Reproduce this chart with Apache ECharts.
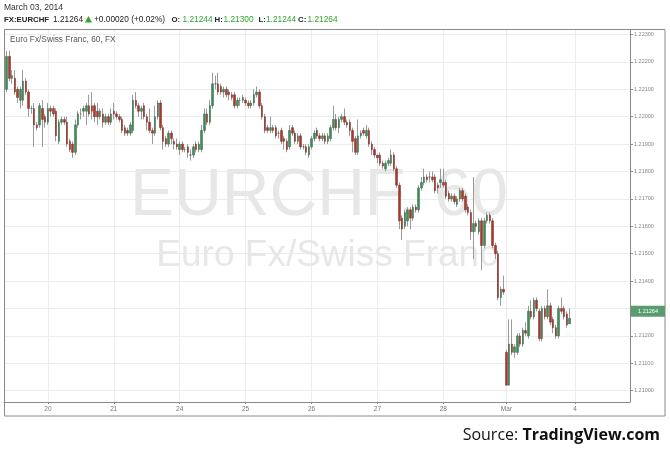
<!DOCTYPE html>
<html>
<head>
<meta charset="utf-8">
<script src="https://cdn.jsdelivr.net/npm/echarts@6/dist/echarts.min.js"></script>
<style>
html,body{margin:0;padding:0;background:#fff;}
#c{width:670px;height:454px;}
</style>
</head>
<body>
<div id="c"></div>
<script>
// Hourly candles [open, close, low, high]
const feb19 = [
[1.2210,1.2222,1.2209,1.2224],[1.2222,1.2214,1.2213,1.2224],[1.2214,1.2215,1.2212,1.2217],
[1.2214,1.2209,1.2208,1.2217],[1.2210,1.2207,1.2205,1.2211],[1.2206,1.2210,1.2203,1.2211],
[1.2206,1.2213,1.2204,1.2217],[1.2213,1.2209,1.2208,1.2214],[1.2209,1.2203,1.2200,1.2210],
[1.2203,1.2203,1.2201,1.2204],[1.2203,1.2197,1.2189,1.2205],[1.2197,1.2196,1.2195,1.2198],
[1.2197,1.2204,1.2196,1.2205],[1.2203,1.2199,1.2189,1.2206],[1.2200,1.2198,1.2196,1.2201]
];
const feb20 = [
[1.2198,1.2203,1.2197,1.2205],[1.2203,1.2202,1.2200,1.2204],[1.2203,1.2201,1.2200,1.2204],
[1.2202,1.2193,1.2191,1.2203],[1.2191,1.2198,1.2190,1.2199],[1.2198,1.2199,1.2197,1.2200],
[1.2199,1.2198,1.2197,1.2200],[1.2198,1.2190,1.2189,1.2200],[1.2191,1.2188,1.2187,1.2192],
[1.2190,1.2187,1.2185,1.2191],[1.2187,1.2197,1.2186,1.2199],[1.2197,1.2201,1.2196,1.2202],
[1.2201,1.2201,1.2199,1.2203],[1.2202,1.2203,1.2200,1.2204],[1.2202,1.2204,1.2197,1.2205],
[1.2204,1.2201,1.2200,1.2208],[1.2204,1.2202,1.2199,1.2209],[1.2204,1.2200,1.2198,1.2205],
[1.2202,1.2200,1.2197,1.2205],[1.2200,1.2202,1.2199,1.2203],[1.2201,1.2198,1.2196,1.2203],
[1.2198,1.2200,1.2197,1.2201],[1.2200,1.2198,1.2197,1.2201],[1.2198,1.2201,1.2197,1.2203]
];
const feb21 = [
[1.2202,1.2201,1.2199,1.2205],[1.2201,1.2200,1.2199,1.2202],[1.2200,1.2199,1.2198,1.2201],
[1.2199,1.2195,1.2194,1.2200],[1.2196,1.2194,1.2193,1.2197],[1.2195,1.2194,1.2193,1.2196],
[1.2194,1.2197,1.2193,1.2198],[1.2195,1.2206,1.2194,1.2208],[1.2206,1.2204,1.2203,1.2209],
[1.2204,1.2202,1.2200,1.2205],[1.2202,1.2203,1.2199,1.2204],[1.2204,1.2200,1.2199,1.2205],
[1.2200,1.2198,1.2195,1.2201],[1.2198,1.2195,1.2194,1.2203],[1.2195,1.2194,1.2190,1.2196],
[1.2194,1.2200,1.2193,1.2204],[1.2200,1.2205,1.2199,1.2206],[1.2205,1.2196,1.2195,1.2206],
[1.2196,1.2191,1.2188,1.2197],[1.2192,1.2190,1.2189,1.2193],[1.2190,1.2194,1.2189,1.2195],
[1.2194,1.2192,1.2190,1.2195],[1.2191,1.2190,1.2188,1.2192],[1.2190,1.2189,1.2188,1.2192]
];
const feb24 = [
[1.2188,1.2190,1.2186,1.2191],[1.2190,1.2188,1.2187,1.2191],[1.2188,1.2188,1.2187,1.2189],
[1.2189,1.2187,1.2185,1.2190],[1.2186,1.2186,1.2184,1.2188],[1.2186,1.2189,1.2185,1.2190],
[1.2190,1.2188,1.2187,1.2191],[1.2188,1.2190,1.2187,1.2191],[1.2188,1.2195,1.2187,1.2197],
[1.2195,1.2201,1.2194,1.2203],[1.2201,1.2198,1.2197,1.2203],[1.2198,1.2204,1.2197,1.2206],
[1.2204,1.2212,1.2203,1.2216],[1.2212,1.2212,1.2210,1.2215],[1.2212,1.2209,1.2208,1.2216],
[1.2211,1.2209,1.2208,1.2212],[1.2209,1.2210,1.2207,1.2211],[1.2210,1.2208,1.2207,1.2211],
[1.2209,1.2208,1.2206,1.2210],[1.2208,1.2207,1.2206,1.2209],[1.2208,1.2204,1.2203,1.2209],
[1.2204,1.2206,1.2203,1.2207],[1.2206,1.2206,1.2204,1.2207],[1.2206,1.2207,1.2205,1.2208]
];
const feb25 = [
[1.2206,1.2205,1.2204,1.2207],[1.2205,1.2204,1.2203,1.2206],[1.2204,1.2205,1.2203,1.2206],
[1.2205,1.2208,1.2204,1.2210],[1.2208,1.2209,1.2207,1.2211],[1.2209,1.2204,1.2203,1.2210],
[1.2204,1.2200,1.2199,1.2205],[1.2200,1.2195,1.2194,1.2201],[1.2196,1.2195,1.2194,1.2197],
[1.2195,1.2196,1.2194,1.2200],[1.2196,1.2195,1.2194,1.2197],[1.2196,1.2193,1.2192,1.2197],
[1.2194,1.2194,1.2192,1.2195],[1.2195,1.2191,1.2190,1.2196],[1.2192,1.2191,1.2188,1.2193],
[1.2191,1.2188,1.2187,1.2192],[1.2189,1.2195,1.2188,1.2197],[1.2196,1.2194,1.2193,1.2197],
[1.2194,1.2191,1.2190,1.2195],[1.2191,1.2193,1.2190,1.2194],[1.2193,1.2189,1.2188,1.2194],
[1.2189,1.2189,1.2188,1.2190],[1.2189,1.2187,1.2186,1.2190],[1.2186,1.2189,1.2185,1.2190]
];
const feb26 = [
[1.2189,1.2192,1.2188,1.2193],[1.2192,1.2194,1.2191,1.2195],[1.2195,1.2193,1.2192,1.2196],
[1.2193,1.2192,1.2191,1.2194],[1.2192,1.2193,1.2191,1.2194],[1.2193,1.2191,1.2190,1.2194],
[1.2191,1.2193,1.2190,1.2194],[1.2192,1.2196,1.2191,1.2197],[1.2196,1.2199,1.2195,1.2204],
[1.2199,1.2196,1.2195,1.2201],[1.2196,1.2199,1.2194,1.2200],[1.2199,1.2200,1.2198,1.2201],
[1.2200,1.2198,1.2197,1.2203],[1.2198,1.2197,1.2196,1.2199],[1.2198,1.2195,1.2193,1.2199],
[1.2195,1.2191,1.2187,1.2196],[1.2192,1.2187,1.2186,1.2193],[1.2187,1.2193,1.2186,1.2199],
[1.2193,1.2194,1.2192,1.2195],[1.2195,1.2194,1.2193,1.2196],[1.2193,1.2195,1.2192,1.2197],
[1.2195,1.2190,1.2189,1.2196],[1.2190,1.2188,1.2186,1.2191],[1.2188,1.2186,1.2185,1.2189]
];
const feb27 = [
[1.2186,1.2185,1.2183,1.2186],[1.2186,1.2183,1.2182,1.2187],[1.2183,1.2182,1.2181,1.2184],
[1.2181,1.2183,1.2180,1.2184],[1.2183,1.2184,1.2182,1.2185],[1.2183,1.2186,1.2182,1.2188],
[1.2186,1.2181,1.2180,1.2187],[1.2181,1.2175,1.2174,1.2182],[1.2175,1.2162,1.2159,1.2176],
[1.2163,1.2159,1.2155,1.2164],[1.2160,1.2165,1.2159,1.2166],[1.2162,1.2166,1.2160,1.2167],
[1.2166,1.2163,1.2159,1.2167],[1.2163,1.2167,1.2162,1.2168],[1.2167,1.2166,1.2165,1.2168],
[1.2166,1.2174,1.2165,1.2175],[1.2174,1.2176,1.2173,1.2178],[1.2176,1.2178,1.2175,1.2181],
[1.2178,1.2177,1.2176,1.2179],[1.2178,1.2178,1.2176,1.2180],[1.2178,1.2177,1.2176,1.2180],
[1.2178,1.2173,1.2172,1.2179],[1.2175,1.2174,1.2172,1.2176],[1.2176,1.2177,1.2174,1.2181]
];
const feb28 = [
[1.2176,1.2175,1.2174,1.2181],[1.2176,1.2171,1.2170,1.2177],[1.2172,1.2170,1.2169,1.2173],
[1.2170,1.2171,1.2169,1.2172],[1.2171,1.2169,1.2168,1.2172],[1.2168,1.2170,1.2167,1.2171],
[1.2170,1.2173,1.2169,1.2174],[1.2173,1.2170,1.2169,1.2174],[1.2171,1.2166,1.2165,1.2172],
[1.2167,1.2165,1.2164,1.2168],[1.2165,1.2158,1.2155,1.2166],[1.2158,1.2161,1.2148,1.2178],
[1.2161,1.2160,1.2158,1.2162],[1.2158,1.2162,1.2157,1.2163],[1.2162,1.2153,1.2144,1.2163],
[1.2153,1.2162,1.2152,1.2163],[1.2162,1.2164,1.2161,1.2165],[1.2164,1.2162,1.2161,1.2165],
[1.2162,1.2153,1.2152,1.2163],[1.2153,1.2150,1.2148,1.2154],[1.2150,1.2134,1.2133,1.2151],
[1.2134,1.2137,1.2131,1.2138],[1.2137,1.2136,1.2135,1.2142]
];
const mar03 = [
[1.2114,1.2102,1.2102,1.2115],[1.2102,1.2117,1.2102,1.2126],[1.2117,1.2114,1.2113,1.2126],
[1.2114,1.2116,1.2112,1.2117],[1.2114,1.2120,1.2113,1.2121],[1.2120,1.2117,1.2116,1.2121],
[1.2117,1.2122,1.2116,1.2123],[1.2122,1.2121,1.2120,1.2125],[1.2120,1.2129,1.2119,1.2131],
[1.2129,1.2127,1.2126,1.2133],[1.2127,1.2133,1.2126,1.2134],[1.2133,1.2130,1.2129,1.2134],
[1.2129,1.2119,1.2118,1.2130],[1.2119,1.2130,1.2118,1.2131],[1.2130,1.2127,1.2126,1.2131],
[1.2127,1.2131,1.2126,1.2137],[1.2131,1.2125,1.2124,1.2132],[1.2126,1.2123,1.2121,1.2127],
[1.2123,1.2120,1.2119,1.2124],[1.2120,1.2130,1.2119,1.2131],[1.2130,1.2129,1.2128,1.2134],
[1.2130,1.2127,1.2126,1.2131],[1.2128,1.2124,1.2123,1.2129],[1.21244,1.21264,1.21244,1.21300]
];

// x axis day ticks (slot index of each day start)
const dayTickLabels = ['20','21','24','25','26','27','28','Mar','4'];
const dayTickIndex  = [16, 40, 64, 88, 112, 136, 160, 183, 208];
// price axis
const priceMin = 1.209, priceMax = 1.224, priceStep = 0.001;
// header quote
const quote = {last: 1.21264, change: '+0.00020 (+0.02%)', o: 1.21244, h: 1.21300, l: 1.21244, c: 1.21264};

const slotCount = 229, firstSlot = 1;
const candles = [].concat(feb19, feb20, feb21, feb24, feb25, feb26, feb27, feb28, mar03);
const slots = [];
for (let i = 0; i < slotCount; i++) slots.push('s' + i);
const labelAt = {};
dayTickIndex.forEach((ix, k) => { labelAt[ix] = dayTickLabels[k]; });
const wickData = [], bodyData = [];
for (let i = 0; i < slotCount; i++) {
  const d = candles[i - firstSlot];
  if (d) {
    wickData.push([d[0], d[1], d[2], d[3]]);
    bodyData.push([d[0], d[1], Math.min(d[0], d[1]), Math.max(d[0], d[1])]);
  } else { wickData.push('-'); bodyData.push('-'); }
}
const isTick = (i) => labelAt[i] !== undefined;

const FONT = '"Liberation Sans", Arial, sans-serif';
const chart = echarts.init(document.getElementById('c'), null, {renderer: 'canvas'});
const up = '#3e8c5b', down = '#a8392d';
chart.setOption({
  animation: false,
  backgroundColor: '#fff',
  grid: [
    {left: 4, right: 40, top: 7.1, bottom: 454 - 418.1},
    {left: 4, right: 40, top: 29, bottom: 52}
  ],
  xAxis: [
    {type: 'category', gridIndex: 0, data: slots, boundaryGap: false, show: false},
    {type: 'category', gridIndex: 1, data: slots, boundaryGap: false,
     axisLine: {show: true, lineStyle: {color: '#8a8a8a', width: 1}},
     axisTick: {show: true, interval: (i) => isTick(i), length: 2, lineStyle: {color: '#8a8a8a'}},
     axisLabel: {interval: (i) => isTick(i), formatter: (v, i) => labelAt[i] || '',
                 fontSize: 6.5, color: '#777', margin: 4, fontFamily: FONT},
     splitLine: {show: true, interval: (i) => isTick(i), lineStyle: {color: '#ececec', width: 1}}}
  ],
  yAxis: [
    {type: 'value', gridIndex: 0, position: 'right', min: priceMin, max: priceMax, interval: priceStep,
     axisLine: {show: false},
     axisTick: {show: true, length: 3, lineStyle: {color: '#8a8a8a'}},
     axisLabel: {showMinLabel: false, showMaxLabel: false, formatter: (v) => v.toFixed(5),
                 fontSize: 5.5, color: '#888', margin: 4, fontFamily: FONT},
     splitLine: {show: true, showMinLine: false, showMaxLine: false, lineStyle: {color: '#ececec', width: 1}}},
    {type: 'value', gridIndex: 1, show: false, min: 0, max: 1}
  ],
  series: [
    {type: 'candlestick', name: 'wick', xAxisIndex: 0, yAxisIndex: 0, data: wickData, barWidth: 1, z: 3,
     itemStyle: {color: '#9a9a9a', color0: '#9a9a9a', borderColor: '#9a9a9a', borderColor0: '#9a9a9a', borderWidth: 1}},
    {type: 'candlestick', name: 'body', xAxisIndex: 0, yAxisIndex: 0, data: bodyData, barWidth: 2, z: 4,
     itemStyle: {color: up, color0: down, borderColor: '#2f6b46', borderColor0: '#7e2a21', borderWidth: 0.5}}
  ]
});

const lastY = chart.convertToPixel({yAxisIndex: 0}, quote.c);
const green = '#2ea52e';
const txt = (x, y, text, o) => ({type: 'text', x: x, y: y, z: 101, silent: true,
  style: Object.assign({text: text, fontSize: 8.3, fontFamily: FONT, fill: '#222', verticalAlign: 'middle', textVerticalAlign: 'middle'}, o || {})});
const graphics = [
  // watermark
  {type: 'text', x: 319, y: 164, z: 1, silent: true,
   style: {text: 'EURCHF, 60', fontSize: 66, fontFamily: FONT, fill: '#e7e7e7', align: 'center', textAlign: 'center', verticalAlign: 'top', textVerticalAlign: 'top'}},
  {type: 'text', x: 327, y: 237, z: 1, silent: true,
   style: {text: 'Euro Fx/Swiss Franc', fontSize: 37, fontFamily: FONT, fill: '#e7e7e7', align: 'center', textAlign: 'center', verticalAlign: 'top', textVerticalAlign: 'top'}},
  // cover areas outside the frame
  {type: 'rect', z: 100, silent: true, shape: {x: 0, y: 0, width: 670, height: 28.5}, style: {fill: '#fff'}},
  {type: 'rect', z: 100, silent: true, shape: {x: 0, y: 416.5, width: 670, height: 40}, style: {fill: '#fff'}},
  // frame
  {type: 'rect', z: 102, silent: true, shape: {x: 4.5, y: 29.5, width: 660.5, height: 386.5}, style: {fill: null, stroke: '#8a8a8a', lineWidth: 1}},
  {type: 'line', z: 102, silent: true, shape: {x1: 630.5, y1: 29.5, x2: 630.5, y2: 402}, style: {stroke: '#8a8a8a', lineWidth: 1}},
  // last price tag
  {type: 'rect', z: 103, silent: true, shape: {x: 631, y: lastY - 12.5, width: 34, height: 11}, style: {fill: '#5b9b70'}},
  {type: 'text', z: 104, silent: true, x: 648, y: lastY - 7, style: {text: quote.c.toFixed(5), fontSize: 5.5, fontFamily: FONT, fill: '#fff', align: 'center', textAlign: 'center', verticalAlign: 'middle', textVerticalAlign: 'middle'}},
  // header
  txt(4, 7.5, 'March 03, 2014', {fontSize: 8.5, fill: '#333'}),
  txt(4, 19.5, 'FX:EURCHF', {fontWeight: 'bold', fontSize: 7.8}),
  txt(53, 19.5, quote.last.toFixed(5)),
  {type: 'polygon', z: 101, silent: true, shape: {points: [[85, 22.5], [92, 22.5], [88.5, 16]]}, style: {fill: green}},
  txt(94, 19.5, quote.change),
  txt(171.5, 19.5, 'O:', {fontWeight: 'bold', fontSize: 7.8}),
  txt(182.5, 19.5, quote.o.toFixed(5), {fill: green}),
  txt(214.5, 19.5, 'H:', {fontWeight: 'bold', fontSize: 7.8}),
  txt(223.5, 19.5, quote.h.toFixed(5), {fill: green}),
  txt(258.5, 19.5, 'L:', {fontWeight: 'bold', fontSize: 7.8}),
  txt(266, 19.5, quote.l.toFixed(5), {fill: green}),
  txt(298, 19.5, 'C:', {fontWeight: 'bold', fontSize: 7.8}),
  txt(307.5, 19.5, quote.c.toFixed(5), {fill: green}),
  // pane title
  txt(10, 40, 'Euro Fx/Swiss Franc, 60, FX', {fontSize: 8.3, fill: '#555'}),
  // source
  {type: 'text', z: 101, silent: true, x: 660, y: 435,
   style: {text: '{a|Source: }{b|TradingView.com}', align: 'right', textAlign: 'right', verticalAlign: 'middle', textVerticalAlign: 'middle',
     rich: {a: {fontSize: 16, fontFamily: '"Open Sans", sans-serif', fill: '#111', color: '#111'},
            b: {fontSize: 16, fontWeight: 'bold', fontFamily: '"Open Sans", sans-serif', fill: '#111', color: '#111'}}}}
];
chart.setOption({graphic: graphics});
</script>
</body>
</html>
